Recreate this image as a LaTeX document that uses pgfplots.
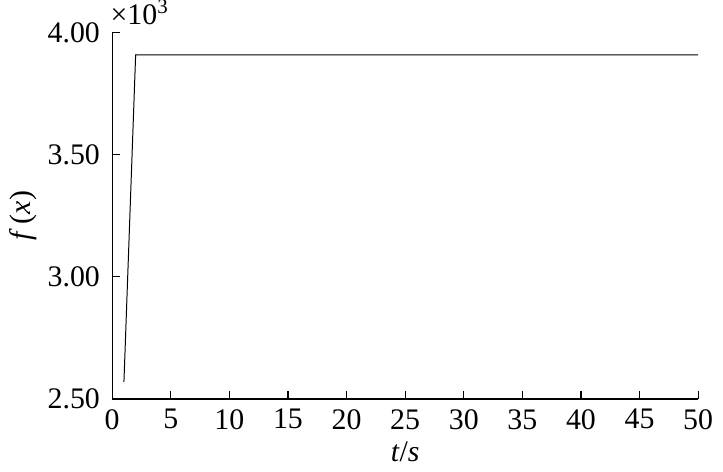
\documentclass[border=0pt]{standalone}
\usepackage{fontspec}
\setmainfont{Liberation Serif}
\usepackage{pgfplots}
\pgfplotsset{compat=1.18}

\begin{document}
\fontsize{15bp}{18bp}\selectfont
\begin{tikzpicture}
\begin{axis}[
    width=294.5bp, height=184bp,
    scale only axis,
    xmin=0, xmax=50,
    ymin=2500, ymax=4000,
    xtick={0,5,...,50},
    ytick={2500,3000,3500,4000},
    axis x line*=bottom,
    axis y line*=left,
    axis line style={-, line width=0.6pt},
    tick align=inside,
    major tick length=4bp,
    tick style={line width=0.6pt, black},
    scaled y ticks=base 10:-3,
    ytick scale label code/.code={},
    /pgf/number format/assume math mode=true,
    yticklabel style={/pgf/number format/fixed, /pgf/number format/fixed zerofill, /pgf/number format/precision=2},
    ylabel={\textit{f}\,(\textit{x})},
    xlabel={\textit{t}/\textit{s}},
    label style={font=\fontsize{15bp}{18bp}\selectfont},
    tick label style={font=\fontsize{15bp}{18bp}\selectfont},
    yticklabel style={xshift=-1bp},
    ylabel style={yshift=-5bp},
    xlabel style={yshift=4bp},
    clip=false,
]
\addplot[black, line width=0.5pt] coordinates {
    (1,2569) (2,3910) (50,3910)
};
\node[anchor=south west, inner sep=0pt, font=\fontsize{15bp}{18bp}\selectfont]
    at (rel axis cs:0,1) [xshift=-1bp, yshift=4bp] {×10\textsuperscript{3}};
\end{axis}
\end{tikzpicture}
\end{document}
